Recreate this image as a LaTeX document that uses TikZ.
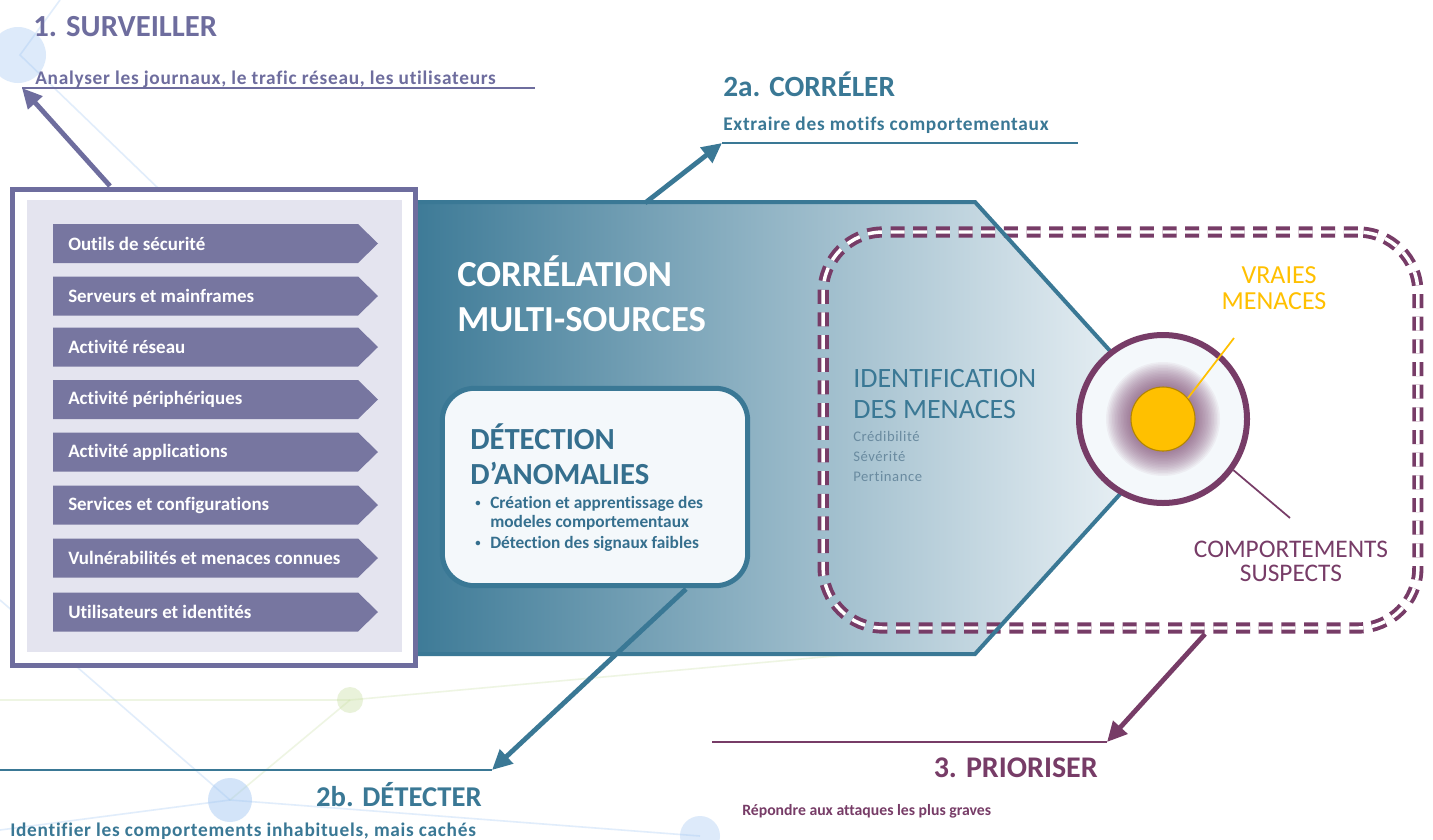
\documentclass[tikz,border=0pt]{standalone}
\usepackage{fontspec}
\setmainfont{Carlito}[Ligatures=NoCommon]
\newfontfamily\trk{Carlito}[Ligatures=NoCommon, LetterSpace=3.7]
\usetikzlibrary{arrows.meta}
\definecolor{pur}{HTML}{6E6D9E}
\definecolor{chevc}{HTML}{7776A0}
\definecolor{lav}{HTML}{E4E4EF}
\definecolor{tl}{HTML}{3A7895}
\definecolor{tltxt}{HTML}{356F8E}
\definecolor{tlmid}{HTML}{B4CCD9}
\definecolor{tllight}{HTML}{F4F8FB}
\definecolor{mar}{HTML}{773C67}
\definecolor{gld}{HTML}{FFC000}
\definecolor{gray1}{HTML}{6A8BA0}
\definecolor{netb}{HTML}{9EC4F2}
\definecolor{netg}{HTML}{C9DFA3}
\begin{document}
\begin{tikzpicture}[x=0.75pt,y=-0.75pt,
  txt/.style={inner sep=0pt, anchor=base west},
  txtr/.style={inner sep=0pt, anchor=base east},
  txtc/.style={inner sep=0pt, anchor=base},
  arr/.style={line width=3.6pt, -{Triangle[length=15pt,width=14pt]}},
  uline/.style={line width=1.1pt},
  chevtxt/.style={inner sep=0pt, anchor=west, text=white, font=\fontsize{14.2}{16}\selectfont\bfseries},
  net/.style={line width=1.2pt, opacity=0.3}
]
\useasboundingbox[fill=white] (0,0) rectangle (1433,839);

% faint background network
\draw[net, netb] (0,600) -- (230,800) -- (700,836);
\draw[net, netb] (230,800) -- (0,830);
\draw[net, netg] (0,700) -- (350,700) -- (900,650);
\draw[net, netb] (60,0) -- (20,55) -- (160,190);
\draw[net, netg] (350,700) -- (230,800);
\fill[netb, opacity=0.35] (18,55) circle (28);
\fill[netb, opacity=0.45] (230,800) circle (22);
\fill[netb, opacity=0.35] (700,836) circle (20);
\fill[netg, opacity=0.4] (350,700) circle (13);

% teal correlation shape (fill)
\shade[left color=tl, middle color=tlmid, right color=tllight]
  (400,202) -- (975,202) -- (1180,428) -- (975,654) -- (400,654) -- cycle;

% dashed zone
\node[draw=mar, line width=2.9pt, double=white, double distance=2.6pt,
  dash pattern=on 10.5pt off 6.5pt, rounded corners=45pt,
  minimum width=446pt, minimum height=297pt] (zone) at (1120.5,430) {};

% teal border
\draw[tl, line width=3pt] (418,202) -- (975,202) -- (1180,428) -- (975,654) -- (418,654);

% left panel
\node[draw=pur, line width=3.75pt, fill=white, minimum width=302pt, minimum height=356.5pt] (lp) at (214,427.5) {};
\fill[lav] (27,200) rectangle (402,652);

\foreach \i/\y/\t in {1/243.5/Outils de sécurité, 2/296/Serveurs et mainframes, 3/347/Activité réseau, 4/399.5/Activité périphériques, 5/452/Activité applications, 6/505/Services et configurations, 7/558/Vulnérabilités et menaces connues, 8/612/Utilisateurs et identités}{
  \fill[chevc] (53,\y-19.5) -- (358,\y-19.5) -- (378,\y) -- (358,\y+19.5) -- (53,\y+19.5) -- cycle;
  \node[chevtxt] (s\i) at (68,\y) {\t};
}

% correlation title
\node[txt, text=white, font=\fontsize{27.5}{30}\selectfont\bfseries] (c1) at (457,286) {CORRÉLATION};
\node[txt, text=white, font=\fontsize{27.5}{30}\selectfont\bfseries] (c2) at (457,331) {MULTI-SOURCES};

% detection box
\node[draw=tl, line width=3.75pt, fill=tllight, rounded corners=24pt,
  minimum width=229pt, minimum height=148pt] (det) at (595,487) {};
\node[txt, text=tltxt, font=\fontsize{23}{26}\selectfont\bfseries] (d1) at (470,449) {DÉTECTION};
\node[txt, text=tltxt, font=\fontsize{23}{26}\selectfont\bfseries] (d2) at (470,484) {D’ANOMALIES};
\node[txt, text=tltxt, font=\fontsize{8}{10}\selectfont\bfseries] (b1) at (475,506) {•};
\node[txt, text=tltxt, font=\fontsize{13}{15}\selectfont\bfseries] (d3) at (490,508) {Création et apprentissage des};
\node[txt, text=tltxt, font=\fontsize{13}{15}\selectfont\bfseries] (d4) at (490,527) {modeles comportementaux};
\node[txt, text=tltxt, font=\fontsize{8}{10}\selectfont\bfseries] (b2) at (475,546) {•};
\node[txt, text=tltxt, font=\fontsize{13}{15}\selectfont\bfseries] (d5) at (490,548) {Détection des signaux faibles};

% identification
\node[txt, text=tl, font=\fontsize{21}{25}\selectfont] (i1) at (853,387) {IDENTIFICATION};
\node[txt, text=tl, font=\fontsize{21}{25}\selectfont] (i2) at (853,418) {DES MENACES};
\node[txt, text=gray1, font=\trk\fontsize{11}{13}\selectfont] (i3) at (853,441) {Crédibilité};
\node[txt, text=gray1, font=\trk\fontsize{11}{13}\selectfont] (i4) at (853,461) {Sévérité};
\node[txt, text=gray1, font=\trk\fontsize{11}{13}\selectfont] (i5) at (853,481) {Pertinance};

% circle
\node[circle, draw=mar, line width=4.5pt, fill=tllight, minimum size=126pt] (circ) at (1163,419) {};
\foreach \r in {57,55.5,...,33}{\fill[mar, opacity=0.055] (1163,419) circle (\r);}
\node[circle, fill=gld, draw=gld!70!black, line width=0.8pt, minimum size=48pt] (gold) at (1163,419) {};

\node[txtc, text=gld, font=\fontsize{19.5}{22}\selectfont] (v1) at (1279,283) {VRAIES};
\node[txtc, text=gld, font=\fontsize{19.5}{22}\selectfont] (v2) at (1274,309) {MENACES};
\coordinate (vmt) at (1234,338);
\draw[gld, line width=1.3pt] (vmt) -- (gold.40);

\node[txtc, text=mar, font=\fontsize{19}{22}\selectfont] (p1) at (1291,557) {COMPORTEMENTS};
\node[txtc, text=mar, font=\fontsize{19}{22}\selectfont] (p2) at (1291,581) {SUSPECTS};
\coordinate (cst) at (1290,518);
\draw[mar, line width=1.3pt] (circ.-36) -- (cst);

% 1. Surveiller
\node[txt, text=pur, font=\fontsize{23}{25}\selectfont\bfseries] (t1) at (33,36) {1. SURVEILLER};
\node[txt, text=pur, font=\trk\fontsize{14.5}{16}\selectfont\bfseries] (t1b) at (35,84) {Analyser les journaux, le trafic réseau, les utilisateurs};
\coordinate (u1a) at (22,88); \coordinate (u1b) at (535,88);
\coordinate (a1s) at (110,186);
\draw[pur, uline] (u1a) -- (u1b);
\draw[pur, arr] (a1s) -- (u1a);

% 2a. Correler
\node[txt, text=tl, font=\fontsize{22}{25}\selectfont\bfseries] (t2) at (723,96) {2a. CORRÉLER};
\node[txt, text=tl, font=\trk\fontsize{14.5}{16}\selectfont\bfseries] (t2b) at (723,130) {Extraire des motifs comportementaux};
\coordinate (u2a) at (722,143); \coordinate (u2b) at (1078,143);
\coordinate (a2s) at (645,203);
\draw[tl, uline] (u2a) -- (u2b);
\draw[tl, arr] (a2s) -- (u2a);

% 2b. Detecter
\node[txtr, text=tl, font=\fontsize{21.5}{25}\selectfont\bfseries] (t3) at (482,806) {2b. DÉTECTER};
\node[txt, text=tl, font=\trk\fontsize{14.5}{16}\selectfont\bfseries] (t3b) at (10,836) {Identifier les comportements inhabituels, mais cachés};
\coordinate (u3a) at (492,770); \coordinate (u3b) at (0,770);
\coordinate (b2s) at (686,589);
\draw[tl, uline] (u3a) -- (u3b);
\draw[tl, arr] (b2s) -- (u3a);

% 3. Prioriser
\node[txtr, text=mar, font=\fontsize{22.5}{25}\selectfont\bfseries] (t4) at (1098,777) {3. PRIORISER};
\node[txt, text=mar, font=\fontsize{11.8}{14}\selectfont\bfseries] (t4b) at (742,815) {Répondre aux attaques les plus graves};
\coordinate (u4a) at (1107,742); \coordinate (u4b) at (712,742);
\coordinate (p3s) at (1205,634);
\draw[mar, uline] (u4a) -- (u4b);
\draw[mar, arr] (p3s) -- (u4a);
\end{tikzpicture}
\end{document}
